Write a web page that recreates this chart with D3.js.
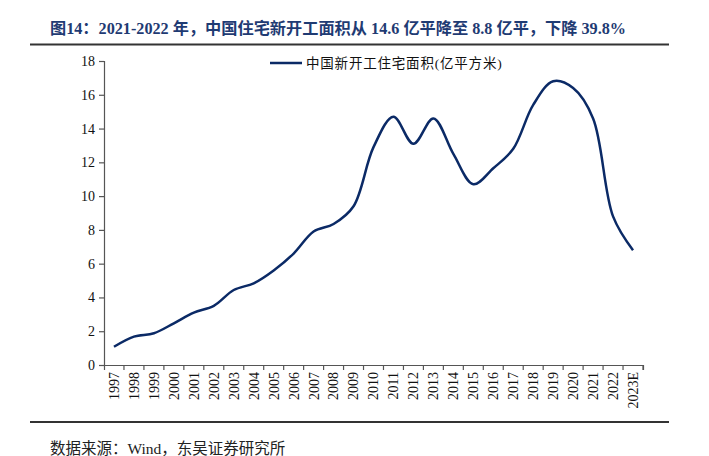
<!DOCTYPE html>
<html>
<head>
<meta charset="utf-8">
<script src="https://cdn.jsdelivr.net/npm/d3@7"></script>
<style>
  body { margin: 0; background: #fff; }
  svg { display: block; }
  .serif { font-family: "Liberation Serif", "Times New Roman", "DejaVu Serif", "Noto Sans CJK SC", serif; }
</style>
</head>
<body>
<svg id="chart"></svg>
<script>
const years = ["1997","1998","1999","2000","2001","2002","2003","2004","2005","2006","2007","2008","2009",
    "2010","2011","2012","2013","2014","2015","2016","2017","2018","2019","2020","2021","2022","2023E"];
const starts = [1.08, 1.68, 1.88, 2.47, 3.1, 3.5, 4.44, 4.84, 5.6, 6.6, 7.9, 8.35, 9.4,
    12.9, 14.7, 13.1, 14.6, 12.5, 10.7, 11.65, 12.8, 15.4, 16.8, 16.4, 14.6, 8.8, 6.8];
const yTicks = [0, 2, 4, 6, 8, 10, 12, 14, 16, 18];
const titleText = "图14：2021-2022 年，中国住宅新开工面积从 14.6 亿平降至 8.8 亿平，下降 39.8%";
const legendText = "中国新开工住宅面积(亿平方米)";
const sourceText = "数据来源：Wind，东吴证券研究所";

const width = 709;
const height = 456;
const navy = "#0b2a66";

const svg = d3.select("#chart")
    .attr("width", width)
    .attr("height", height);

// header
svg.append("text")
    .attr("class", "serif")
    .attr("x", 50)
    .attr("y", 34)
    .attr("fill", "#1f3b73")
    .attr("font-weight", "bold")
    .attr("font-size", 16.2)
    .text(titleText);

svg.append("line")
    .attr("x1", 30).attr("x2", 669)
    .attr("y1", 44.5).attr("y2", 44.5)
    .attr("stroke", "#333").attr("stroke-width", 2);

svg.append("line")
    .attr("x1", 30).attr("x2", 669)
    .attr("y1", 422).attr("y2", 422)
    .attr("stroke", "#333").attr("stroke-width", 2);

svg.append("text")
    .attr("class", "serif")
    .attr("x", 50)
    .attr("y", 454)
    .attr("fill", "#222")
    .attr("font-size", 15.5)
    .text(sourceText);

// scales
const xScale = d3.scaleBand()
    .domain(years)
    .range([104, 643]);

const yScale = d3.scaleLinear()
    .domain([0, 18])
    .range([365, 61]);

const xAxis = d3.axisBottom(xScale).tickSize(5).tickFormat(d => d);
const yAxis = d3.axisLeft(yScale).tickValues(yTicks).tickSize(5);

const yG = svg.append("g")
    .attr("transform", "translate(104, 0)")
    .call(yAxis);

const xG = svg.append("g")
    .attr("transform", "translate(0, 365)")
    .call(xAxis);

// ticks between categories, like the original
xG.selectAll(".tick line")
    .attr("x1", xScale.bandwidth() / 2)
    .attr("x2", xScale.bandwidth() / 2);

xG.selectAll(".tick text")
    .attr("transform", "rotate(-90)")
    .attr("text-anchor", "end")
    .attr("x", -7)
    .attr("y", 0)
    .attr("dy", "0.35em");

[xG, yG].forEach(g => {
    g.attr("font-family", null).attr("font-size", null);
    g.select(".domain").attr("stroke", "#555").attr("stroke-width", 1.2);
    g.selectAll(".tick line").attr("stroke", "#555").attr("stroke-width", 1.2);
    g.selectAll(".tick text")
        .attr("class", "serif")
        .attr("fill", "#111")
        .attr("font-size", 14);
});
yG.selectAll(".tick text").attr("x", -9);

// line
const line = d3.line()
    .x((d, i) => xScale(years[i]) + xScale.bandwidth() / 2)
    .y(d => yScale(d))
    .curve(d3.curveCatmullRom.alpha(0.5));

svg.append("path")
    .datum(starts)
    .attr("fill", "none")
    .attr("stroke", navy)
    .attr("stroke-width", 2.5)
    .attr("d", line);

// legend
svg.append("line")
    .attr("x1", 270).attr("x2", 302)
    .attr("y1", 63).attr("y2", 63)
    .attr("stroke", navy).attr("stroke-width", 2.5);

svg.append("text")
    .attr("class", "serif")
    .attr("x", 306)
    .attr("y", 68)
    .attr("fill", "#111")
    .attr("font-size", 13.5)
    .attr("letter-spacing", 0.8)
    .text(legendText);
</script>
</body>
</html>
